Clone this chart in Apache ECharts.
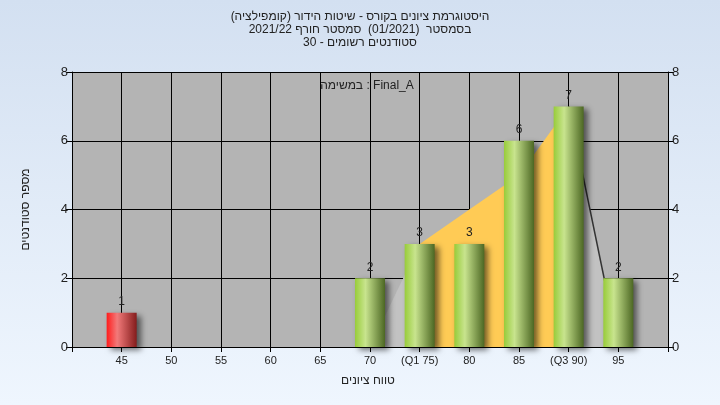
<!DOCTYPE html>
<html><head><meta charset="utf-8">
<script src="https://cdn.jsdelivr.net/npm/echarts@6/dist/echarts.min.js"></script>
<style>html,body{margin:0;padding:0}#c{width:720px;height:405px}</style>
</head><body><div id="c"></div>
<script>
var titleLines = [
  'היסטוגרמת ציונים בקורס - שיטות הידור (קומפילציה)',
  'בסמסטר  (01/2021)  סמסטר חורף 2021/22',
  'סטודנטים רשומים - 30'
];
var taskLabel = 'במשימה : Final_A';
var xAxisName = 'טווח ציונים';
var yAxisName = 'מספר סטודנטים';

var grades = [45, 70, 75, 80, 85, 90, 95];
var counts = [1, 2, 3, 3, 6, 7, 2];
var failing = [true, false, false, false, false, false, false];

var tickValues = [45, 50, 55, 60, 65, 70, 75, 80, 85, 90, 95];
var tickLabels = ['45', '50', '55', '60', '65', '70', '(Q1 75)', '80', '85', '(Q3 90)', '95'];

var iqrX = [75, 80, 85, 90];
var iqrY = [3, 4, 5, 7];
var leftTailX = [70, 75];
var leftTailY = [0, 3];
var rightTailX = [90, 95];
var rightTailY = [7, 0];

function pairs(xs, ys) { return xs.map(function (x, i) { return [x, ys[i]]; }); }

var font = 'Liberation Sans';
var green = new echarts.graphic.LinearGradient(0, 0, 1, 0, [
  {offset: 0, color: '#98cc3a'}, {offset: 0.35, color: '#c8e48e'}, {offset: 1, color: '#4c6723'}]);
var red = new echarts.graphic.LinearGradient(0, 0, 1, 0, [
  {offset: 0, color: '#ff1c1c'}, {offset: 0.35, color: '#f27a7a'}, {offset: 1, color: '#841c1c'}]);

var barData = grades.map(function (g, i) {
  return {value: [g, counts[i]], itemStyle: {color: failing[i] ? red : green}};
});

function plainText(s, x, y) {
  return {type: 'text', x: x, y: y, silent: true,
    style: {text: s, align: 'center', verticalAlign: 'middle', font: '12px "' + font + '"', fill: '#222'}};
}
var graphics = titleLines.map(function (s, i) { return plainText(s, 360, 17 + i * 13); });
graphics.push(plainText(taskLabel, 367, 86));
graphics.push(plainText(xAxisName, 368, 381));

var chart = echarts.init(document.getElementById('c'));
chart.setOption({
  animation: false,
  backgroundColor: new echarts.graphic.LinearGradient(0, 0, 0, 1, [
    {offset: 0, color: '#d3e0f1'}, {offset: 1, color: '#eff6fe'}]),
  graphic: graphics,
  grid: {left: 72, right: 52, top: 72, bottom: 58, show: true, backgroundColor: '#b4b4b4', borderWidth: 0},
  xAxis: {
    type: 'value', min: 40, max: 100, interval: 5,
    axisLine: {show: true, lineStyle: {color: '#000', width: 1}},
    axisTick: {show: true, length: 5, lineStyle: {color: '#000'}},
    splitLine: {show: true, lineStyle: {color: '#000', width: 1}},
    axisLabel: {
      fontFamily: font, fontSize: 11, color: '#222', margin: 8,
      formatter: function (v) { var i = tickValues.indexOf(v); return i >= 0 ? tickLabels[i] : ''; }
    }
  },
  yAxis: [{
    type: 'value', min: 0, max: 8, interval: 2, position: 'left',
    name: yAxisName, nameLocation: 'middle', nameGap: 40, nameRotate: 90,
    nameTextStyle: {fontFamily: font, fontSize: 12, color: '#222'},
    axisLine: {show: true, lineStyle: {color: '#000'}},
    axisTick: {show: true, length: 6, lineStyle: {color: '#000'}},
    splitLine: {show: true, lineStyle: {color: '#000', width: 1}},
    axisLabel: {fontFamily: font, fontSize: 13, color: '#222', margin: 4}
  }, {
    type: 'value', min: 0, max: 8, interval: 2, position: 'right',
    axisLine: {show: true, lineStyle: {color: '#000'}},
    axisTick: {show: true, length: 6, lineStyle: {color: '#000'}},
    splitLine: {show: false},
    axisLabel: {fontFamily: font, fontSize: 13, color: '#222', margin: 4}
  }],
  series: [{
    type: 'line', data: pairs(leftTailX, leftTailY), symbol: 'none', silent: true, z: 1,
    lineStyle: {width: 0}, areaStyle: {color: '#c2c2c2', opacity: 1}
  }, {
    type: 'line', data: pairs(rightTailX, rightTailY), symbol: 'none', silent: true, z: 1,
    lineStyle: {width: 1.5, color: '#333'}, areaStyle: {color: '#c2c2c2', opacity: 1}
  }, {
    type: 'line', data: pairs(iqrX, iqrY), symbol: 'none', silent: true, z: 1,
    lineStyle: {width: 0}, areaStyle: {color: '#ffcb55', opacity: 1}
  }, {
    type: 'bar', data: barData, barWidth: 30, z: 3,
    itemStyle: {shadowBlur: 6, shadowOffsetX: 4, shadowOffsetY: 3, shadowColor: 'rgba(0,0,0,0.55)'},
    label: {show: true, position: 'top', distance: 5, fontFamily: font, fontSize: 12, color: '#222'}
  }]
});
</script></body></html>
